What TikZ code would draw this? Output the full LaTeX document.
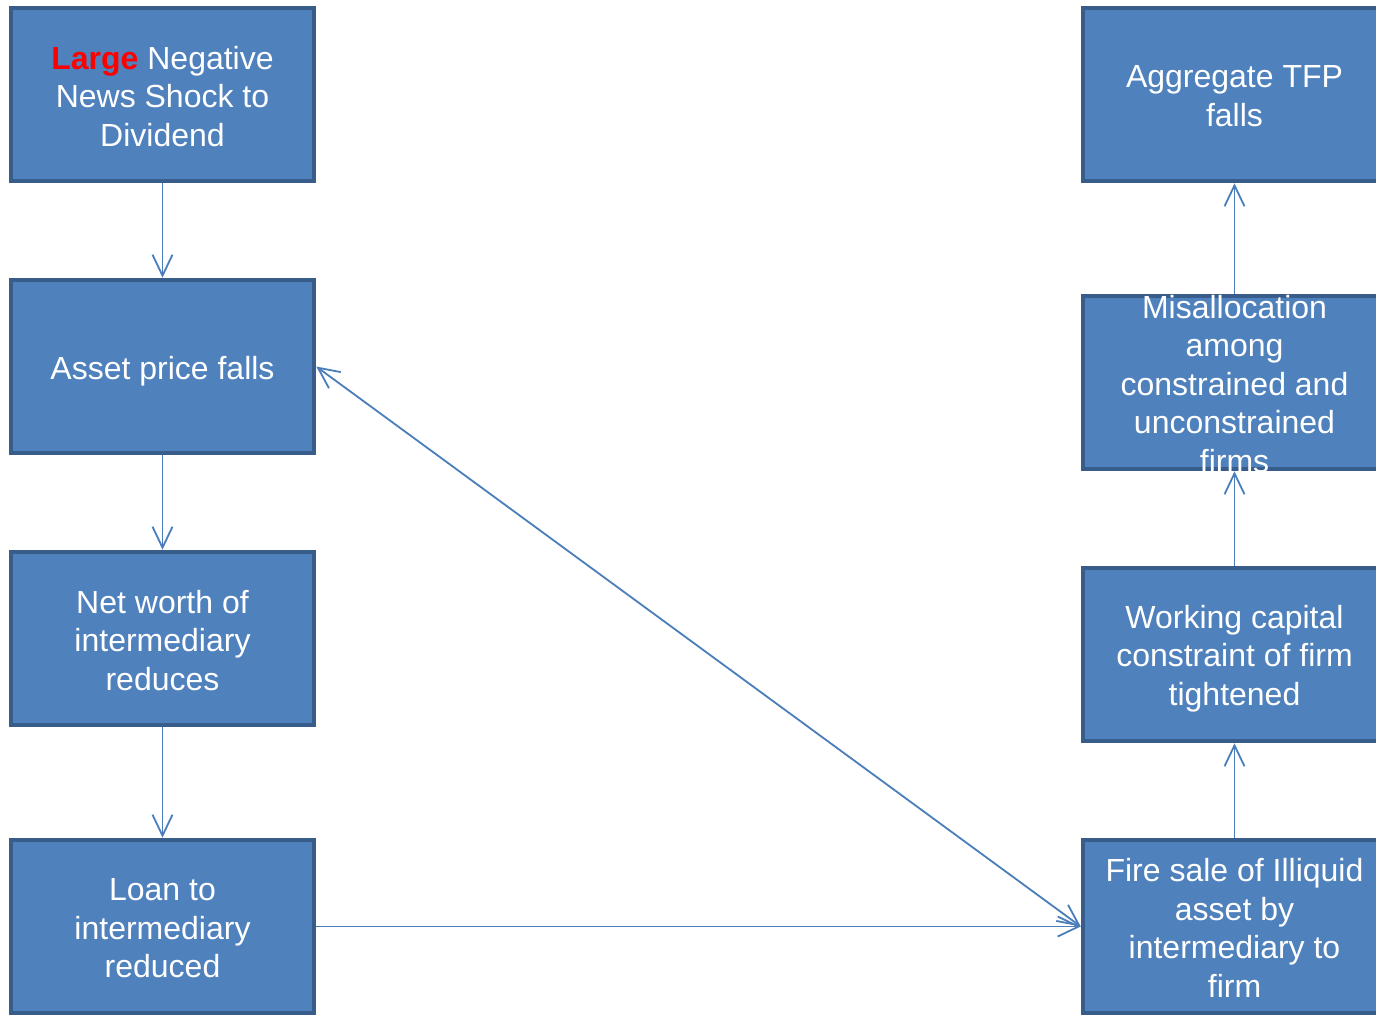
\documentclass[tikz,border=0pt]{standalone}
\usepackage{fontspec}
\setmainfont{Liberation Sans}
\usetikzlibrary{arrows.meta}
\definecolor{boxfill}{RGB}{79,129,189}
\definecolor{boxline}{RGB}{56,93,138}
\definecolor{arrowc}{RGB}{74,126,187}
\definecolor{lred}{RGB}{255,0,0}
\tikzset{
  flowbox/.style={draw=boxline, fill=boxfill, line width=2.25pt, minimum width=151.5pt,
    minimum height=86.5pt, inner sep=0pt},
  boxtext/.style={inner sep=0pt, text=white, align=center,
    font=\fontsize{16pt}{19.25pt}\selectfont},
  barb/.tip={Straight Barb[length=10.5pt,width=10pt,line width=0.9pt]},
  flowarrow/.style={draw=arrowc, line width=0.9pt, -barb},
}
\begin{document}
\begin{tikzpicture}[x=0.5pt,y=-0.5pt]
\useasboundingbox (0,0) rectangle (1376,1014);
\clip (0,0) rectangle (1376,1014);
\fill[white] (0,0) rectangle (1376,1014);
\node[flowbox] (l1) at (162.5,94.5) {};
\node[flowbox] (l2) at (162.5,366.5) {};
\node[flowbox] (l3) at (162.5,638.5) {};
\node[flowbox] (l4) at (162.5,926.5) {};
\node[flowbox] (r1) at (1234.5,94.5) {};
\node[flowbox] (r2) at (1234.5,382.5) {};
\node[flowbox] (r3) at (1234.5,654.5) {};
\node[flowbox] (r4) at (1234.5,926.5) {};
\node[boxtext] (t1) at ([yshift=-0.8pt]l1.center) {{\color{lred}\bfseries Large} Negative\\News Shock to\\Dividend};
\node[boxtext] (t2) at ([yshift=-2.5pt]l2.center) {Asset price falls};
\node[boxtext] (t3) at ([yshift=-0.8pt]l3.center) {Net worth of\\intermediary\\reduces};
\node[boxtext] (t4) at ([yshift=-1pt]l4.center) {Loan to\\intermediary\\reduced};
\node[boxtext] (t5) at ([yshift=-0.8pt]r1.center) {Aggregate TFP\\falls};
\node[boxtext] (t6) at ([yshift=-0.6pt]r2.center) {Misallocation\\among\\constrained and\\unconstrained\\firms};
\node[boxtext] (t7) at ([yshift=-2pt]r3.center) {Working capital\\constraint of firm\\tightened};
\node[boxtext] (t8) at ([yshift=-0.7pt]r4.center) {Fire sale of Illiquid\\asset by\\intermediary to\\firm};
\draw[flowarrow] (l1.south) -- (l2.north);
\draw[flowarrow] (l2.south) -- (l3.north);
\draw[flowarrow] (l3.south) -- (l4.north);
\draw[flowarrow] (l4.east) -- (r4.west);
\draw[flowarrow, barb-barb] (l2.east) -- (r4.west);
\draw[flowarrow] (r4.north) -- (r3.south);
\draw[flowarrow] (r3.north) -- (r2.south);
\draw[flowarrow] (r2.north) -- (r1.south);
\end{tikzpicture}
\end{document}
